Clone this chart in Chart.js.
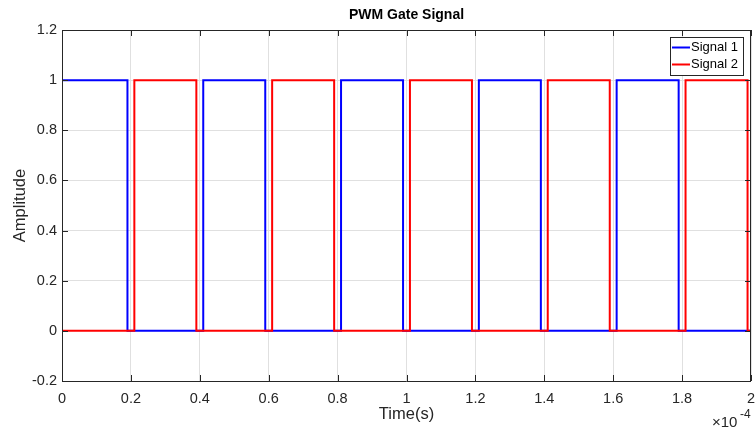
<!DOCTYPE html>
<html>
<head>
<meta charset="utf-8">
<script src="https://cdn.jsdelivr.net/npm/chart.js@4.4.1/dist/chart.umd.min.js"></script>
<style>
html,body{margin:0;padding:0;background:#fff;}
#wrap{width:755px;height:431px;position:relative;}
</style>
</head>
<body>
<div id="wrap"><canvas id="c" width="755" height="431"></canvas></div>
<script>
// Time in units of 1e-4 s
const signal1Times  = [0, 0.19, 0.41, 0.59, 0.81, 0.99, 1.21, 1.39, 1.61, 1.79, 2.0];
const signal1Levels = [1, 0,    1,    0,    1,    0,    1,    0,    1,    0,    0];
const signal2Times  = [0, 0.21, 0.39, 0.61, 0.79, 1.01, 1.19, 1.41, 1.59, 1.81, 1.99, 2.0];
const signal2Levels = [0, 1,    0,    1,    0,    1,    0,    1,    0,    1,    0,    0];
const xTicks = [0, 0.2, 0.4, 0.6, 0.8, 1, 1.2, 1.4, 1.6, 1.8, 2];
const yTicks = [-0.2, 0, 0.2, 0.4, 0.6, 0.8, 1, 1.2];
const seriesNames = ['Signal 1', 'Signal 2'];
const titleText = 'PWM Gate Signal';
const xLabel = 'Time(s)';
const yLabel = 'Amplitude';

const pts = (t, v) => t.map((x, i) => ({x: x, y: v[i]}));
const AX = '#262626';
const FONT = '"Liberation Sans", Arial, sans-serif';

const decor = {
  id: 'decor',
  afterDatasetsDraw(chart) {
    const {ctx, chartArea: a, scales: {x, y}} = chart;
    ctx.save();
    ctx.strokeStyle = AX;
    ctx.lineWidth = 1;
    ctx.beginPath();
    ctx.rect(Math.round(a.left) + 0.5, Math.round(a.top) + 0.5, Math.round(a.right - a.left) - 1, Math.round(a.bottom - a.top));
    ctx.stroke();
    const L = 6;
    ctx.beginPath();
    xTicks.forEach(v => {
      const px = Math.round(x.getPixelForValue(v)) + 0.5;
      ctx.moveTo(px, a.bottom); ctx.lineTo(px, a.bottom - L);
      ctx.moveTo(px, a.top); ctx.lineTo(px, a.top + L);
    });
    yTicks.forEach(v => {
      const py = Math.round(y.getPixelForValue(v)) + 0.5;
      ctx.moveTo(a.left, py); ctx.lineTo(a.left + L, py);
      ctx.moveTo(a.right, py); ctx.lineTo(a.right - L, py);
    });
    ctx.stroke();
    ctx.restore();
  },
  afterDraw(chart) {
    const {ctx, chartArea: a} = chart;
    ctx.save();
    ctx.fillStyle = '#000';
    ctx.font = 'bold 14px ' + FONT;
    ctx.textAlign = 'center';
    ctx.textBaseline = 'middle';
    ctx.fillText(titleText, (a.left + a.right) / 2, 15);
    ctx.fillStyle = AX;
    ctx.font = '16.5px ' + FONT;
    ctx.fillText(xLabel, (a.left + a.right) / 2, 414);
    ctx.save();
    ctx.translate(20, (a.top + a.bottom) / 2);
    ctx.rotate(-Math.PI / 2);
    ctx.fillText(yLabel, 0, 0);
    ctx.restore();
    ctx.textAlign = 'left';
    ctx.textBaseline = 'alphabetic';
    ctx.font = '15px ' + FONT;
    ctx.fillText('\u00d710', 712, 427);
    ctx.font = '12px ' + FONT;
    ctx.fillText('-4', 740, 418);
    const lx = 670.5, ly = 37.5, lw = 73, lh = 38;
    ctx.fillStyle = '#fff';
    ctx.fillRect(lx, ly, lw, lh);
    ctx.strokeStyle = AX;
    ctx.lineWidth = 1;
    ctx.strokeRect(lx, ly, lw, lh);
    const ds = chart.data.datasets;
    ctx.font = '13px ' + FONT;
    ctx.textBaseline = 'middle';
    [0, 1].forEach(i => {
      const yy = 47.5 + i * 17;
      ctx.strokeStyle = ds[i].borderColor;
      ctx.lineWidth = 2;
      ctx.beginPath();
      ctx.moveTo(672, yy); ctx.lineTo(690, yy);
      ctx.stroke();
      ctx.fillStyle = '#000';
      ctx.fillText(ds[i].label, 691, yy);
    });
    ctx.restore();
  }
};

new Chart(document.getElementById('c'), {
  type: 'line',
  data: {
    datasets: [
      {label: seriesNames[0], data: pts(signal1Times, signal1Levels), borderColor: '#0000ff', borderWidth: 2, stepped: true, pointRadius: 0, fill: false, order: 1},
      {label: seriesNames[1], data: pts(signal2Times, signal2Levels), borderColor: '#ff0000', borderWidth: 2, stepped: true, pointRadius: 0, fill: false, order: 0}
    ]
  },
  options: {
    responsive: false,
    animation: false,
    devicePixelRatio: 1,
    layout: {autoPadding: false, padding: {top: 30, right: 4, left: 0, bottom: 0}},
    plugins: {legend: {display: false}, title: {display: false}, tooltip: {enabled: false}},
    scales: {
      x: {
        type: 'linear', min: 0, max: 2,
        afterBuildTicks: s => { s.ticks = xTicks.map(v => ({value: v})); },
        afterFit: s => { s.height = 50; s.paddingLeft = 0; s.paddingRight = 0; },
        grid: {color: '#e0e0e0', drawTicks: false, tickLength: 0},
        border: {display: false},
        ticks: {padding: 9, color: AX, font: {family: FONT, size: 14.5}, maxRotation: 0, autoSkip: false,
          callback: v => String(Number(v.toFixed(1)))}
      },
      y: {
        type: 'linear', min: -0.2, max: 1.2,
        afterBuildTicks: s => { s.ticks = yTicks.map(v => ({value: v})); },
        afterFit: s => { s.width = 62; s.paddingTop = 0; s.paddingBottom = 0; },
        grid: {color: '#e0e0e0', drawTicks: false, tickLength: 0},
        border: {display: false},
        ticks: {padding: 5, color: AX, font: {family: FONT, size: 14.5}, autoSkip: false,
          callback: v => String(Number(v.toFixed(1)))}
      }
    }
  },
  plugins: [decor]
});
</script>
</body>
</html>
